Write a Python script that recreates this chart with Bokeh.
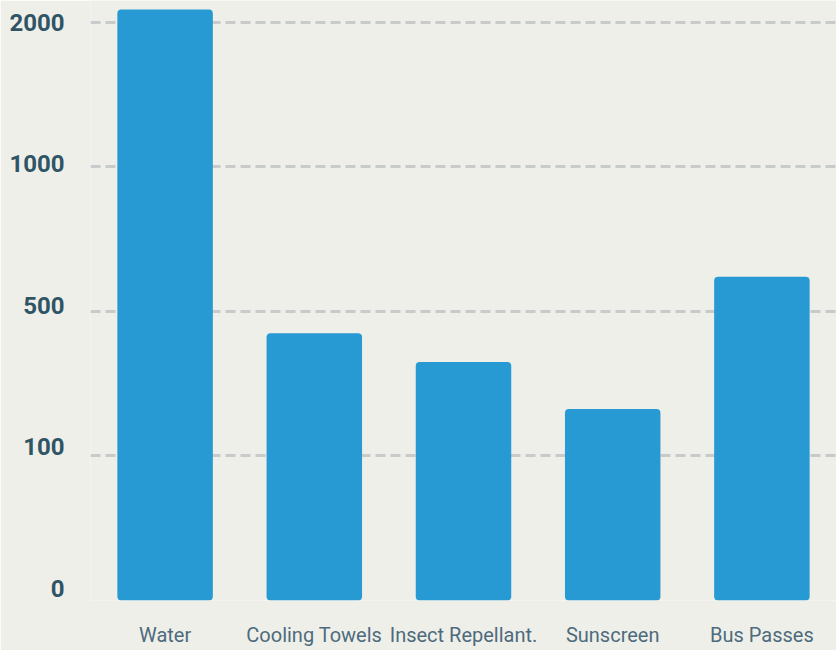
import numpy as np
from bokeh.plotting import figure
from bokeh.models import ColumnDataSource, FixedTicker, LinearAxis, Range1d
from bokeh.embed import file_html
from bokeh.resources import INLINE

# ---- data ----
categories = ["Water", "Cooling Towels", "Insect Repellant.", "Sunscreen", "Bus Passes"]
amounts = [2090, 440, 360, 230, 620]
tick_values = [0, 100, 500, 1000, 2000]
tick_labels = ["0", "100", "500", "1000", "2000"]

# piecewise-linear scale: each labelled tick is equally spaced
tick_pos = list(range(len(tick_values)))


def to_scale(v):
    tv = np.array(tick_values, dtype=float)
    tp = np.array(tick_pos, dtype=float)
    if v > tv[-1]:
        return tp[-1] + (v - tv[-1]) / (tv[-1] - tv[-2]) * (tp[-1] - tp[-2])
    return float(np.interp(v, tv, tp))


source = ColumnDataSource(dict(cat=categories, amount=amounts,
                               y=[to_scale(a) for a in amounts]))

BG = "#efefea"
BAR = "#289ad3"
GRID = "#c8cbcb"
YLAB = "#2f5466"
XLAB = "#4d6b7c"

p = figure(x_range=categories, y_range=Range1d(0, 4.152),
           width=836, height=650, output_backend="svg", toolbar_location=None,
           y_axis_location=None, min_border_left=90, min_border_right=0,
           min_border_top=0, min_border_bottom=50)
p.background_fill_color = BG
p.border_fill_color = BG
p.outline_line_color = None

# grid at the equally spaced tick positions
p.xgrid.grid_line_color = None
p.ygrid.ticker = FixedTicker(ticks=tick_pos)
p.ygrid.grid_line_color = GRID
p.ygrid.grid_line_width = 3
p.ygrid.grid_line_dash = "10 5"

p.vbar(x="cat", top="y", bottom=0, width=0.64, source=source,
       fill_color=BAR, line_color=None, border_radius=4)

# y labels on their own axis (labels sit slightly above their grid lines)
p.extra_y_ranges = {"labels": Range1d(-0.085, 4.155)}
yax = LinearAxis(y_range_name="labels",
                 ticker=FixedTicker(ticks=tick_pos),
                 major_label_overrides={t: l for t, l in zip(tick_pos, tick_labels)})
yax.axis_line_color = None
yax.major_tick_line_color = None
yax.minor_tick_line_color = None
yax.major_tick_out = 0
yax.major_label_standoff = 26
yax.major_label_text_font = "Roboto"
yax.major_label_text_font_size = "24px"
yax.major_label_text_font_style = "bold"
yax.major_label_text_color = YLAB
p.add_layout(yax, "left")

xax = p.xaxis[0]
xax.axis_line_color = None
xax.major_tick_line_color = None
xax.minor_tick_line_color = None
xax.major_tick_out = 0
xax.major_label_standoff = 22
xax.major_label_text_font = "Roboto"
xax.major_label_text_font_size = "20px"
xax.major_label_text_color = XLAB

open("out.html", "w").write(file_html(p, INLINE))
